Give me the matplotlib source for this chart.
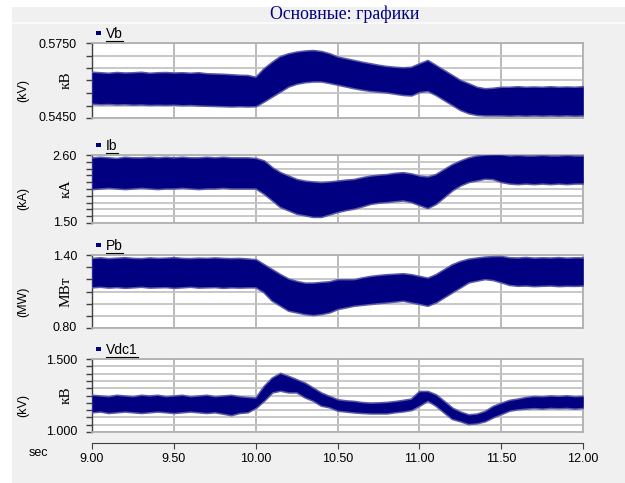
import matplotlib
matplotlib.use("Agg")
import matplotlib.pyplot as plt
import numpy as np
from matplotlib.patches import Rectangle
from matplotlib.lines import Line2D

# ---------------- data (envelopes, 0.05 s step) ----------------
time = np.linspace(9.0, 12.0, 61)

vb_hi = [0.5632, 0.5630, 0.5628, 0.5631, 0.5629, 0.5630, 0.5632, 0.5628, 0.5630, 0.5631,
         0.5629, 0.5630, 0.5628, 0.5630, 0.5626, 0.5625, 0.5624, 0.5622, 0.5620, 0.5619,
         0.5612, 0.5646, 0.5672, 0.5695, 0.5706, 0.5713, 0.5717, 0.5719, 0.5715, 0.5706,
         0.5693, 0.5686, 0.5679, 0.5672, 0.5666, 0.5660, 0.5655, 0.5652, 0.5650, 0.5652,
         0.5666, 0.5679, 0.5659, 0.5639, 0.5619, 0.5599, 0.5586, 0.5572, 0.5566, 0.5568,
         0.5572, 0.5572, 0.5574, 0.5572, 0.5573, 0.5572, 0.5574, 0.5572, 0.5573, 0.5572, 0.5574]
vb_lo = [0.5510, 0.5508, 0.5509, 0.5507, 0.5508, 0.5506, 0.5507, 0.5505, 0.5506, 0.5505,
         0.5506, 0.5504, 0.5505, 0.5503, 0.5502, 0.5501, 0.5500, 0.5499, 0.5500, 0.5499,
         0.5500, 0.5519, 0.5539, 0.5559, 0.5579, 0.5590, 0.5596, 0.5599, 0.5599, 0.5593,
         0.5586, 0.5579, 0.5572, 0.5566, 0.5561, 0.5558, 0.5555, 0.5550, 0.5545, 0.5543,
         0.5557, 0.5561, 0.5545, 0.5525, 0.5505, 0.5485, 0.5472, 0.5465, 0.5463, 0.5463,
         0.5463, 0.5462, 0.5463, 0.5462, 0.5463, 0.5462, 0.5463, 0.5462, 0.5463, 0.5462, 0.5463]

ib_hi = [2.55, 2.56, 2.55, 2.54, 2.56, 2.55, 2.55, 2.56, 2.55, 2.56,
         2.55, 2.56, 2.55, 2.55, 2.56, 2.55, 2.56, 2.55, 2.55, 2.55,
         2.54, 2.50, 2.39, 2.31, 2.255, 2.20, 2.174, 2.16, 2.15, 2.16,
         2.175, 2.19, 2.20, 2.23, 2.255, 2.27, 2.28, 2.30, 2.31, 2.29,
         2.255, 2.24, 2.28, 2.36, 2.44, 2.50, 2.55, 2.58, 2.595, 2.60,
         2.60, 2.58, 2.59, 2.58, 2.58, 2.59, 2.58, 2.58, 2.59, 2.58, 2.58]
ib_lo = [2.06, 2.07, 2.08, 2.07, 2.06, 2.07, 2.08, 2.07, 2.06, 2.07,
         2.07, 2.08, 2.07, 2.06, 2.07, 2.07, 2.08, 2.07, 2.07, 2.07,
         2.07, 1.985, 1.88, 1.77, 1.716, 1.66, 1.635, 1.61, 1.61, 1.65,
         1.69, 1.72, 1.743, 1.78, 1.82, 1.84, 1.85, 1.865, 1.877, 1.85,
         1.80, 1.753, 1.82, 1.93, 2.04, 2.12, 2.174, 2.20, 2.228, 2.22,
         2.174, 2.15, 2.14, 2.15, 2.14, 2.15, 2.14, 2.15, 2.14, 2.15, 2.15]

pb_hi = [1.37, 1.375, 1.368, 1.372, 1.376, 1.37, 1.368, 1.374, 1.37, 1.372,
         1.376, 1.37, 1.368, 1.372, 1.37, 1.374, 1.37, 1.368, 1.37, 1.365,
         1.36, 1.318, 1.277, 1.236, 1.20, 1.181, 1.167, 1.167, 1.173, 1.178,
         1.195, 1.195, 1.195, 1.21, 1.222, 1.23, 1.236, 1.24, 1.244, 1.236,
         1.222, 1.208, 1.236, 1.277, 1.318, 1.345, 1.364, 1.373, 1.381, 1.385,
         1.386, 1.375, 1.373, 1.378, 1.372, 1.375, 1.373, 1.377, 1.372, 1.375, 1.374]
pb_lo = [1.14, 1.145, 1.138, 1.142, 1.136, 1.14, 1.145, 1.138, 1.14, 1.142,
         1.136, 1.14, 1.145, 1.138, 1.14, 1.142, 1.136, 1.14, 1.138, 1.14,
         1.14, 1.099, 1.03, 0.989, 0.948, 0.934, 0.92, 0.912, 0.92, 0.934,
         0.962, 0.975, 0.989, 0.996, 1.003, 1.01, 1.016, 1.023, 1.03, 1.016,
         1.003, 0.989, 1.016, 1.058, 1.099, 1.14, 1.181, 1.195, 1.208, 1.20,
         1.181, 1.16, 1.153, 1.155, 1.15, 1.153, 1.155, 1.15, 1.153, 1.152, 1.155]

vdc_hi = [1.25, 1.245, 1.24, 1.25, 1.245, 1.24, 1.25, 1.245, 1.25, 1.24,
          1.245, 1.25, 1.24, 1.245, 1.25, 1.24, 1.245, 1.25, 1.24, 1.235,
          1.231, 1.31, 1.368, 1.40, 1.379, 1.356, 1.333, 1.299, 1.265, 1.242,
          1.219, 1.212, 1.208, 1.20, 1.196, 1.198, 1.201, 1.207, 1.215, 1.224,
          1.276, 1.276, 1.253, 1.208, 1.162, 1.135, 1.116, 1.121, 1.139, 1.174,
          1.196, 1.215, 1.224, 1.235, 1.242, 1.240, 1.245, 1.242, 1.246, 1.24, 1.243]
vdc_lo = [1.14, 1.145, 1.135, 1.14, 1.145, 1.14, 1.135, 1.14, 1.145, 1.14,
          1.135, 1.14, 1.145, 1.14, 1.135, 1.14, 1.13, 1.12, 1.135, 1.14,
          1.17, 1.219, 1.276, 1.288, 1.276, 1.276, 1.242, 1.219, 1.185, 1.174,
          1.151, 1.145, 1.139, 1.135, 1.132, 1.132, 1.132, 1.14, 1.146, 1.155,
          1.185, 1.219, 1.185, 1.139, 1.094, 1.078, 1.059, 1.064, 1.078, 1.105,
          1.128, 1.151, 1.160, 1.165, 1.169, 1.165, 1.17, 1.168, 1.17, 1.165, 1.17]

series_names = ["Vb", "Ib", "Pb", "Vdc1"]
unit_en = ["(kV)", "(kA)", "(MW)", "(kV)"]
unit_ru = ["кВ", "кА", "МВт", "кВ"]
y_limits = [(0.5450, 0.5750), (1.50, 2.60), (0.80, 1.40), (1.000, 1.500)]
y_divisions = [6, 10, 6, 10]
y_top_labels = ["0.5750", "2.60", "1.40", "1.500"]
y_bottom_labels = ["0.5450", "1.50", "0.80", "1.000"]
x_ticks = [9.00, 9.50, 10.00, 10.50, 11.00, 11.50, 12.00]
x_tick_labels = ["9.00", "9.50", "10.00", "10.50", "11.00", "11.50", "12.00"]
title = "Основные: графики"

his = [vb_hi, ib_hi, pb_hi, vdc_hi]
los = [vb_lo, ib_lo, pb_lo, vdc_lo]

# ---------------- figure ----------------
W, H = 625, 483
NAVY = "#000080"
HALO = "#5a5aa8"
fig = plt.figure(figsize=(W / 100, H / 100), dpi=100, facecolor="#f0f0f0")

def fx(px):
    return px / W

def fy(py):
    return 1 - py / H

# white strips at top/left and separator under title bar
fig.add_artist(Rectangle((0, fy(7)), 1, 7 / H, transform=fig.transFigure,
                         facecolor="white", edgecolor="none", zorder=0))
fig.add_artist(Rectangle((0, 0), 12 / W, 1, transform=fig.transFigure,
                         facecolor="white", edgecolor="none", zorder=0))
fig.add_artist(Line2D([fx(12), 1], [fy(22.5), fy(22.5)], transform=fig.transFigure,
                      color="#fafafa", lw=1.5, zorder=0))

fig.text(fx(345), fy(14.5), title, ha="center", va="center", color=NAVY,
         family="Liberation Serif", fontsize=12.8)

left_px, right_px = 92, 583
panels_px = [(43, 118), (155, 223), (255, 328), (359, 432)]

renderer = fig.canvas.get_renderer()

for i, (top, bot) in enumerate(panels_px):
    ax = fig.add_axes([fx(left_px), fy(bot), (right_px - left_px) / W, (bot - top) / H])
    ax.set_facecolor("white")
    lo_v, hi_v = y_limits[i]
    ax.set_xlim(9.0, 12.0)
    ax.set_ylim(lo_v, hi_v)
    yt = np.linspace(lo_v, hi_v, y_divisions[i] + 1)
    ax.set_yticks(yt)
    ax.set_yticklabels([""] * len(yt))
    ax.set_xticks(x_ticks)
    ax.set_xticklabels([])
    ax.tick_params(axis="x", length=0)
    ax.tick_params(axis="y", length=4, width=1, color="#404040", direction="out")
    ax.grid(True, axis="y", color="#c4c4c4", lw=1.3)
    ax.grid(True, axis="x", color="#b4b4b4", lw=1.3)
    ax.set_axisbelow(True)
    for s in ["top", "right", "bottom"]:
        ax.spines[s].set_color("#b0b0b0")
        ax.spines[s].set_linewidth(1.3)
    ax.spines["left"].set_color("#404040")
    ax.spines["left"].set_linewidth(1.0)

    ax.fill_between(time, los[i], his[i], color=HALO, lw=2.2, edgecolor=HALO, zorder=3)
    ax.fill_between(time, los[i], his[i], color=NAVY, lw=0, zorder=4)

    # tick end labels
    fig.text(fx(77), fy(top + 2), y_top_labels[i], ha="right", va="center",
             family="Liberation Sans", fontsize=9)
    fig.text(fx(77), fy(bot), y_bottom_labels[i], ha="right", va="center",
             family="Liberation Sans", fontsize=9)
    # units
    mid = (top + bot) / 2
    fig.text(fx(23), fy(mid + 10), unit_en[i], rotation=90, ha="center", va="center",
             family="Liberation Sans", fontsize=9)
    fig.text(fx(66), fy(mid), unit_ru[i], rotation=90, ha="center", va="center",
             family="Liberation Serif", fontsize=11)
    # legend
    ly = top - 9
    fig.add_artist(Rectangle((fx(95.5), fy(ly + 1)), 5.5 / W, 4.5 / H,
                             transform=fig.transFigure, facecolor=NAVY, edgecolor="none"))
    t = fig.text(fx(106), fy(ly), series_names[i], ha="left", va="center",
                 family="Liberation Sans", fontsize=10)
    bb = t.get_window_extent(renderer=renderer)
    fig.add_artist(Line2D([bb.x0 / W, bb.x1 / W], [fy(ly + 6.5), fy(ly + 6.5)],
                          transform=fig.transFigure, color="black", lw=0.8))

# x axis below the panels
axx = fig.add_axes([fx(left_px), fy(443), (right_px - left_px) / W, 0.0001])
axx.set_xlim(9.0, 12.0)
axx.set_facecolor("none")
for s in ["top", "right", "left"]:
    axx.spines[s].set_visible(False)
axx.spines["bottom"].set_color("#404040")
axx.set_yticks([])
axx.set_xticks(x_ticks)
axx.set_xticklabels(x_tick_labels, family="Liberation Sans", fontsize=9)
axx.tick_params(axis="x", length=4, color="#404040", pad=3)

fig.text(fx(38), fy(453), "sec", ha="center", va="center",
         family="Liberation Sans", fontsize=9)

fig.savefig("out.png", dpi=100, facecolor=fig.get_facecolor())
